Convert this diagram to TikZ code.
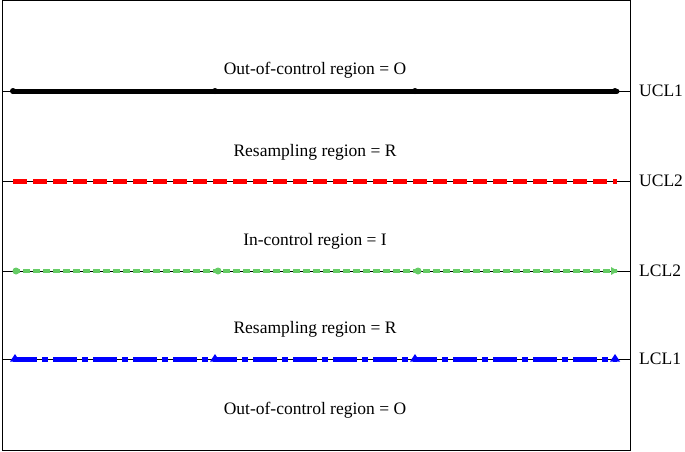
\documentclass[tikz,border=0pt]{standalone}
\usepackage{fontspec}
\setmainfont{Liberation Serif}
\usetikzlibrary{shapes.geometric}
\definecolor{cgreen}{RGB}{102,204,102}
\begin{document}
\begin{tikzpicture}[x=1pt,y=-1pt,
  lbl/.style={font=\fontsize{17.5}{20}\selectfont,inner sep=0pt},
  thin/.style={line width=0.8pt,black}]
\useasboundingbox (0,0) rectangle (685,451);
\draw[thin] (2,0.5) rectangle (630,450.5);
\foreach \y/\t in {91/UCL1,181/UCL2,271/LCL2,359/LCL1}{
  \draw[thin] (2,\y) -- (630,\y);
  \node[lbl,anchor=west] (n\t) at (639,\y) {\t};
}
\draw[line width=5pt,line cap=round] (13,91) -- (617,91);
\foreach \x in {13,215,415,615} \fill (\x,91) circle (3pt);
\draw[red,line width=5pt,dash pattern=on 14pt off 6pt] (13,181) -- (617,181);
\draw[cgreen,line width=4.5pt,dash pattern=on 7pt off 3pt] (13,271) -- (617,271);
\foreach \x in {16,218,418} \fill[cgreen] (\x,271) circle (3.5pt);
\fill[cgreen] (611,267) -- (618,271) -- (611,275) -- cycle;
\draw[blue,line width=5pt,dash pattern=on 24pt off 5pt on 6pt off 5pt] (13,359) -- (617,359);
\foreach \x in {15,215,415,615} \fill[blue] (\x-5,361.5) -- (\x,354) -- (\x+5,361.5) -- cycle;
\node[lbl] (t1) at (315,70) {Out-of-control region = O};
\node[lbl] (t2) at (315,152) {Resampling region = R};
\node[lbl] (t3) at (315,241) {In-control region = I};
\node[lbl] (t4) at (315,329) {Resampling region = R};
\node[lbl] (t5) at (315,410) {Out-of-control region = O};
\end{tikzpicture}
\end{document}
